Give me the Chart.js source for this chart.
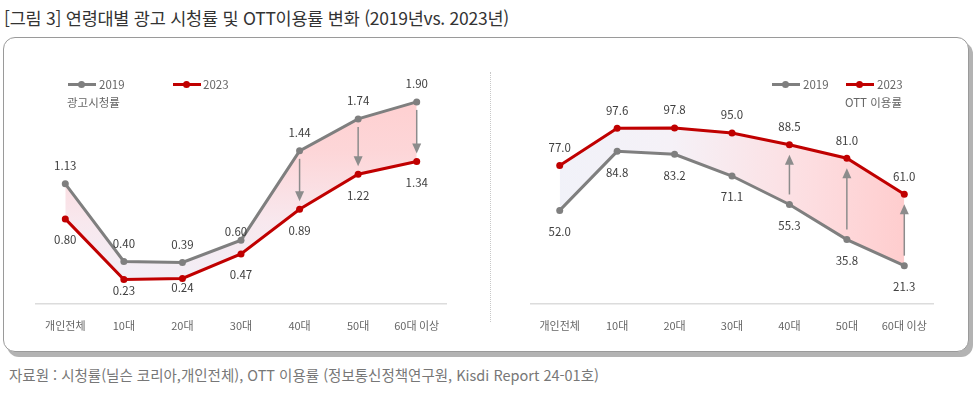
<!DOCTYPE html>
<html lang="ko">
<head>
<meta charset="utf-8">
<script src="https://cdn.jsdelivr.net/npm/chart.js@4/dist/chart.umd.min.js"></script>
<style>
  body { margin: 0; background: #fff; font-family: 'Noto Sans CJK KR', 'Noto Sans', sans-serif; }
  #page { position: relative; width: 977px; height: 396px; overflow: hidden; }
  #title { position: absolute; left: 4px; top: 5px; font-size: 17.5px; color: #333; letter-spacing: -0.25px; white-space: nowrap; }
  #panel { position: absolute; left: 3px; top: 37px; width: 964px; height: 313px; border: 1.5px solid #9a9a9a; border-radius: 12px; box-shadow: 4px 5px 0 #b3b3b3; background: #fff; }
  #divider { position: absolute; left: 490px; top: 72px; height: 250px; border-left: 1px dotted #c8c8c8; }
  canvas { position: absolute; top: 40px; }
  #adChart { left: 20px; }
  #ottChart { left: 505px; }
  .lg { position: absolute; font-size: 11.5px; color: #666; white-space: nowrap; line-height: 14px; }
  .mk { position: absolute; width: 28px; height: 3px; }
  .mk i { position: absolute; left: 10px; top: -2px; width: 7px; height: 7px; border-radius: 50%; background: inherit; }
  #source { position: absolute; left: 9px; top: 364px; font-size: 14.5px; color: #777; letter-spacing: 0; white-space: nowrap; }
</style>
</head>
<body>
<div id="page">
  <div id="title">[그림 3] 연령대별 광고 시청률 및 OTT이용률 변화 (2019년vs. 2023년)</div>
  <div id="panel"></div>
  <div id="divider"></div>
  <canvas id="adChart" width="450" height="310"></canvas>
  <canvas id="ottChart" width="455" height="310"></canvas>

  <div class="mk" style="left:68px;top:83px;background:#7f7f7f"><i></i></div>
  <div class="lg" style="left:99px;top:77px">2019</div>
  <div class="mk" style="left:173px;top:83px;background:#c00000"><i></i></div>
  <div class="lg" style="left:203px;top:77px">2023</div>
  <div class="lg" style="left:67px;top:95px">광고시청률</div>

  <div class="mk" style="left:772px;top:83px;background:#7f7f7f"><i></i></div>
  <div class="lg" style="left:803px;top:77px">2019</div>
  <div class="mk" style="left:846px;top:83px;background:#c00000"><i></i></div>
  <div class="lg" style="left:877px;top:77px">2023</div>
  <div class="lg" style="left:845px;top:95px">OTT 이용률</div>

  <div id="source">자료원 : 시청률(닐슨 코리아,개인전체), OTT 이용률 (정보통신정책연구원, Kisdi Report 24-01호)</div>
</div>

<script>
const categories = ['개인전체', '10대', '20대', '30대', '40대', '50대', '60대 이상'];
const adRate2019 = [1.13, 0.40, 0.39, 0.60, 1.44, 1.74, 1.90];
const adRate2023 = [0.80, 0.23, 0.24, 0.47, 0.89, 1.22, 1.34];
const ottRate2019 = [52.0, 84.8, 83.2, 71.1, 55.3, 35.8, 21.3];
const ottRate2023 = [77.0, 97.6, 97.8, 95.0, 88.5, 81.0, 61.0];
const arrowPoints = [4, 5, 6];

const GRAY = '#7f7f7f';
const RED = '#c00000';

Chart.defaults.font.family = "'Noto Sans CJK KR', 'Noto Sans', sans-serif";

// value labels next to every point
const valueLabels = {
  id: 'valueLabels',
  afterDatasetsDraw(chart, args, opts) {
    const ctx = chart.ctx;
    ctx.save();
    ctx.font = "11.5px 'Noto Sans CJK KR', sans-serif";
    ctx.fillStyle = '#404040';
    ctx.textAlign = 'center';
    ctx.textBaseline = 'middle';
    chart.data.datasets.forEach((ds, di) => {
      const meta = chart.getDatasetMeta(di);
      meta.data.forEach((pt, i) => {
        let dx = 0;
        let dy = di === opts.aboveDataset ? -18 : 21;
        const nudge = (opts.nudges || {})[di + ':' + i];
        if (nudge) {
          dx = nudge[0];
          dy = nudge[1];
        }
        ctx.fillText(ds.data[i].toFixed(opts.decimals), pt.x + dx, pt.y + dy);
      });
    });
    ctx.restore();
  }
};

// gray arrows from the 2019 point toward the 2023 point
const changeArrows = {
  id: 'changeArrows',
  afterDatasetsDraw(chart, args, opts) {
    const ctx = chart.ctx;
    const from = chart.getDatasetMeta(0).data;
    const to = chart.getDatasetMeta(1).data;
    ctx.save();
    ctx.strokeStyle = '#8c8c8c';
    ctx.fillStyle = '#8c8c8c';
    ctx.lineWidth = 1.5;
    opts.indexes.forEach(i => {
      const x = from[i].x;
      const dir = Math.sign(to[i].y - from[i].y);
      const y0 = from[i].y + dir * opts.startGap;
      const tip = to[i].y - dir * opts.endGap;
      ctx.beginPath();
      ctx.moveTo(x, y0);
      ctx.lineTo(x, tip - dir * 8);
      ctx.stroke();
      ctx.beginPath();
      ctx.moveTo(x, tip);
      ctx.lineTo(x - 4.5, tip - dir * 10);
      ctx.lineTo(x + 4.5, tip - dir * 10);
      ctx.closePath();
      ctx.fill();
    });
    ctx.restore();
  }
};

function adFill(context) {
  const area = context.chart.chartArea;
  if (!area) return 'rgba(0,0,0,0)';
  const g = context.chart.ctx.createLinearGradient(0, area.top, 0, area.bottom);
  g.addColorStop(0, '#ffcccc');
  g.addColorStop(0.35, '#fdd6d8');
  g.addColorStop(0.65, '#f8e8ee');
  g.addColorStop(1, '#eff1f9');
  return g;
}

function ottFill(context) {
  const area = context.chart.chartArea;
  if (!area) return 'rgba(0,0,0,0)';
  const g = context.chart.ctx.createLinearGradient(area.left, 0, area.right, 0);
  g.addColorStop(0, '#f0f2f9');
  g.addColorStop(0.35, '#f5f1f7');
  g.addColorStop(0.7, '#fddde0');
  g.addColorStop(1, '#ffc8c8');
  return g;
}

function lineDataset(label, data, color, fill, bg) {
  return {
    label: label,
    data: data,
    borderColor: color,
    borderWidth: 3,
    pointBackgroundColor: color,
    pointBorderColor: color,
    pointRadius: 3.5,
    pointBorderWidth: 0,
    tension: 0,
    fill: fill,
    backgroundColor: bg
  };
}

function buildOptions(yMax, padding, labelOpts, arrowOpts) {
  return {
    responsive: false,
    animation: false,
    layout: { padding: padding },
    scales: {
      x: {
        offset: true,
        grid: { display: false, drawTicks: false },
        border: { display: true, color: '#dcdcdc', width: 1.5 },
        ticks: { color: '#666', font: { size: 11 }, padding: 15, autoSkip: false, maxRotation: 0 },
        afterFit: scale => { scale.height = 40; }
      },
      y: { display: false, min: 0, max: yMax }
    },
    plugins: {
      legend: { display: false },
      tooltip: { enabled: false },
      filler: { drawTime: 'beforeDatasetsDraw' },
      valueLabels: labelOpts,
      changeArrows: arrowOpts
    }
  };
}

new Chart(document.getElementById('adChart'), {
  type: 'line',
  data: {
    labels: categories,
    datasets: [
      lineDataset('2019', adRate2019, GRAY, '+1', adFill),
      lineDataset('2023', adRate2023, RED, false, 'rgba(0,0,0,0)')
    ]
  },
  options: buildOptions(2.2, { left: 16, right: 24, top: 30, bottom: 6 },
    { aboveDataset: 0, decimals: 2, nudges: { '0:3': [-5, -9], '1:1': [0, 11], '1:2': [0, 9] } },
    { indexes: arrowPoints, startGap: 8, endGap: 8 }),
  plugins: [valueLabels, changeArrows]
});

new Chart(document.getElementById('ottChart'), {
  type: 'line',
  data: {
    labels: categories,
    datasets: [
      lineDataset('2019', ottRate2019, GRAY, '+1', ottFill),
      lineDataset('2023', ottRate2023, RED, false, 'rgba(0,0,0,0)')
    ]
  },
  options: buildOptions(120, { left: 26, right: 27, top: 48, bottom: 6 },
    { aboveDataset: 1, decimals: 1 },
    { indexes: arrowPoints, startGap: 10, endGap: 10 }),
  plugins: [valueLabels, changeArrows]
});
</script>
</body>
</html>
